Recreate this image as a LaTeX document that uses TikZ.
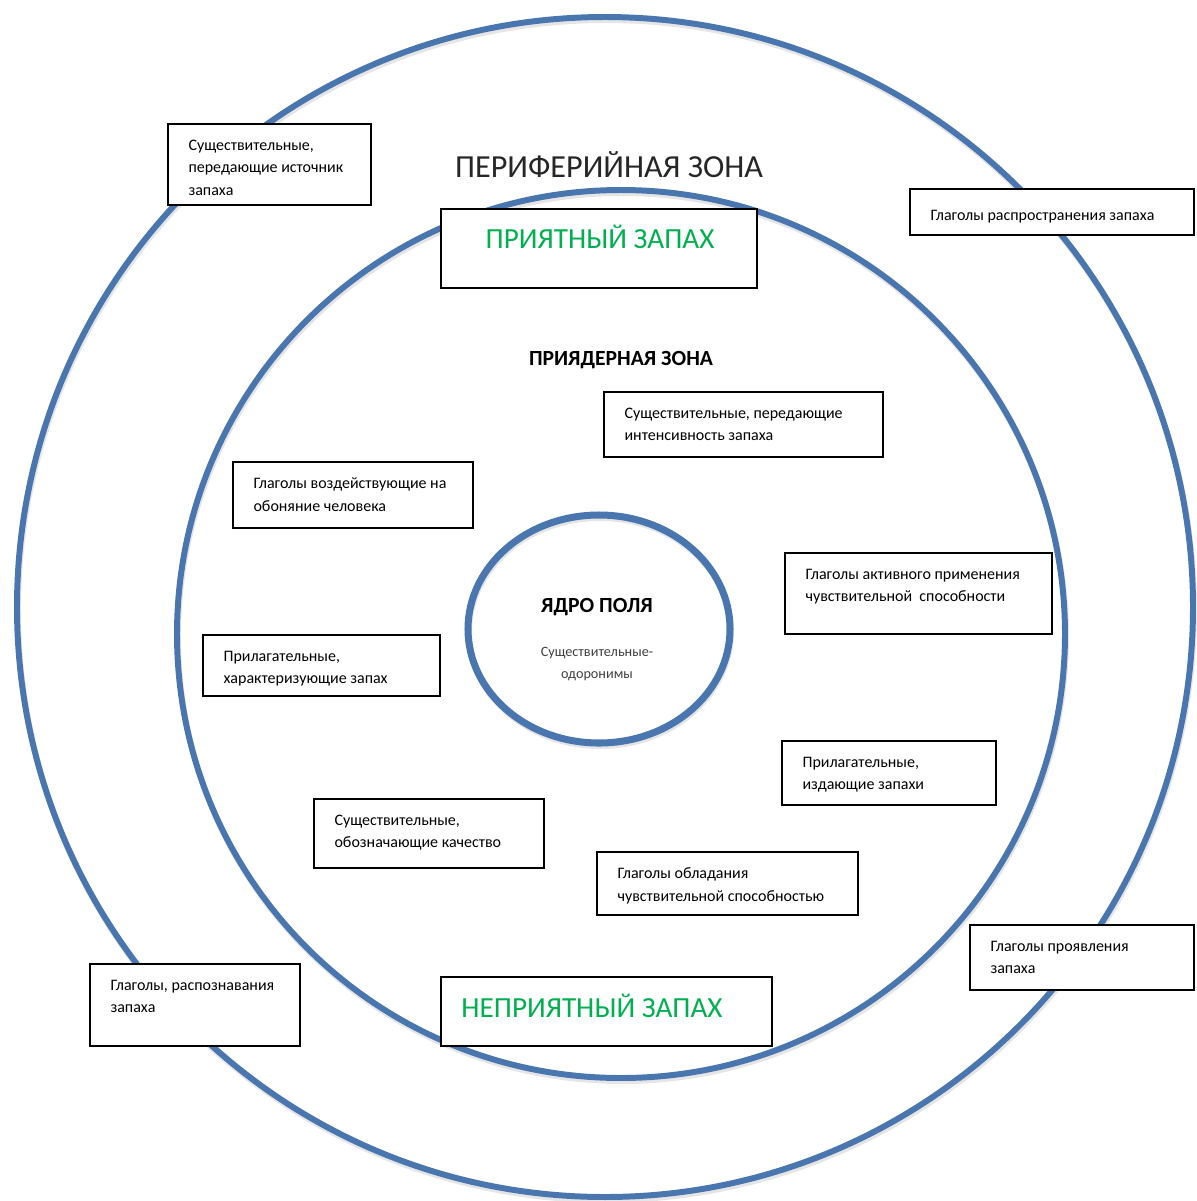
\documentclass[tikz,border=0pt]{standalone}
\usepackage{fontspec}
\setmainfont{Carlito}
\usetikzlibrary{positioning,calc,fit}
\definecolor{znblue}{HTML}{4A76B0}
\definecolor{zngreen}{HTML}{00B050}
\definecolor{znink}{HTML}{262626}
\definecolor{znmuted}{HTML}{404040}
\tikzset{
  znring/.style  ={draw=znblue, line width=3.4pt},
  znshade/.style ={draw=black!10, line width=3.4pt},
  znbox/.style   ={rectangle, draw=black, fill=white, line width=0.9pt, inner sep=0pt},
  zntext/.style  ={anchor=north west, align=left, inner sep=0pt, text=black,
                   font=\fontsize{9.1}{12.8}\selectfont, execute at begin node=\strut},
  zntitle/.style ={font=\fontsize{16.6}{20}\selectfont, inner sep=0pt},
  znbold/.style  ={font=\fontsize{12.3}{14}\selectfont\bfseries, inner sep=0pt, text=black},
  znsmall/.style ={font=\fontsize{8.1}{13}\selectfont, align=center, inner sep=0pt, text=znmuted},
}
% box: name, x1, y1, x2, y2, text
\newcommand{\znbox}[6]{%
  \node[znbox, fit={(#2,#3)(#4,#5)}] (#1) {};
  \node[zntext] (#1t) at ([shift={(21,16.5)}]#1.north west) {#6};
}

\begin{document}
\begin{tikzpicture}[x=0.02cm, y=-0.02cm]
  \useasboundingbox (0,0) rectangle (1197,1201);
  % rings
  \draw[znshade] (606,610) ellipse [x radius=588, y radius=590];
  \draw[znring]  (605,607) ellipse [x radius=588, y radius=590];
  \draw[znshade] (622,637) ellipse [x radius=444, y radius=444];
  \draw[znring]  (621,634) ellipse [x radius=444, y radius=444];
  \draw[znshade] (600,632) ellipse [x radius=131, y radius=114];
  \draw[znring, line width=4pt] (599,629) ellipse [x radius=131, y radius=114];
  % zone titles
  \node[zntitle, text=znink, font=\fontsize{18.3}{22}\selectfont] (periph) at (609,165) {ПЕРИФЕРИЙНАЯ ЗОНА};
  \node[znbold] (nearcore) at (621,360) {ПРИЯДЕРНАЯ ЗОНА};
  \node[znbold] (core) at (597,607) {ЯДРО ПОЛЯ};
  \node[znsmall] (coretxt) at (597,664) {Существительные-\\одоронимы};
  % pleasant / unpleasant
  \node[znbox, fit={(441,209)(757,288)}] (good) {};
  \node[zntitle, text=zngreen] (goodt) at (600,237) {ПРИЯТНЫЙ ЗАПАХ};
  \node[znbox, fit={(441,977)(772,1046)}] (bad) {};
  \node[zntitle, text=zngreen] (badt) at (592,1006) {НЕПРИЯТНЫЙ ЗАПАХ};
  % periphery boxes
  \znbox{src}{168}{124}{371}{205}{Существительные,\\передающие источник\\запаха}
  \znbox{spread}{910}{189}{1194}{235}{Глаголы распространения запаха}
  \znbox{show}{970}{925}{1194}{990}{Глаголы проявления\\запаха}
  \znbox{recog}{90}{964}{300}{1046}{Глаголы, распознавания\\запаха}
  % near-core boxes
  \znbox{intens}{604}{392}{883}{457}{Существительные, передающие\\интенсивность запаха}
  \znbox{affect}{233}{462}{473}{528}{Глаголы воздействующие на\\обоняние человека}
  \znbox{active}{785}{553}{1052}{634}{Глаголы активного применения\\чувствительной\ \ способности}
  \znbox{adjchar}{203}{635}{440}{696}{Прилагательные,\\характеризующие запах}
  \znbox{adjemit}{782}{741}{996}{805}{Прилагательные,\\издающие запахи}
  \znbox{quality}{314}{799}{544}{868}{Существительные,\\обозначающие качество}
  \znbox{possess}{597}{852}{858}{915}{Глаголы обладания\\чувствительной способностью}
\end{tikzpicture}
\end{document}
